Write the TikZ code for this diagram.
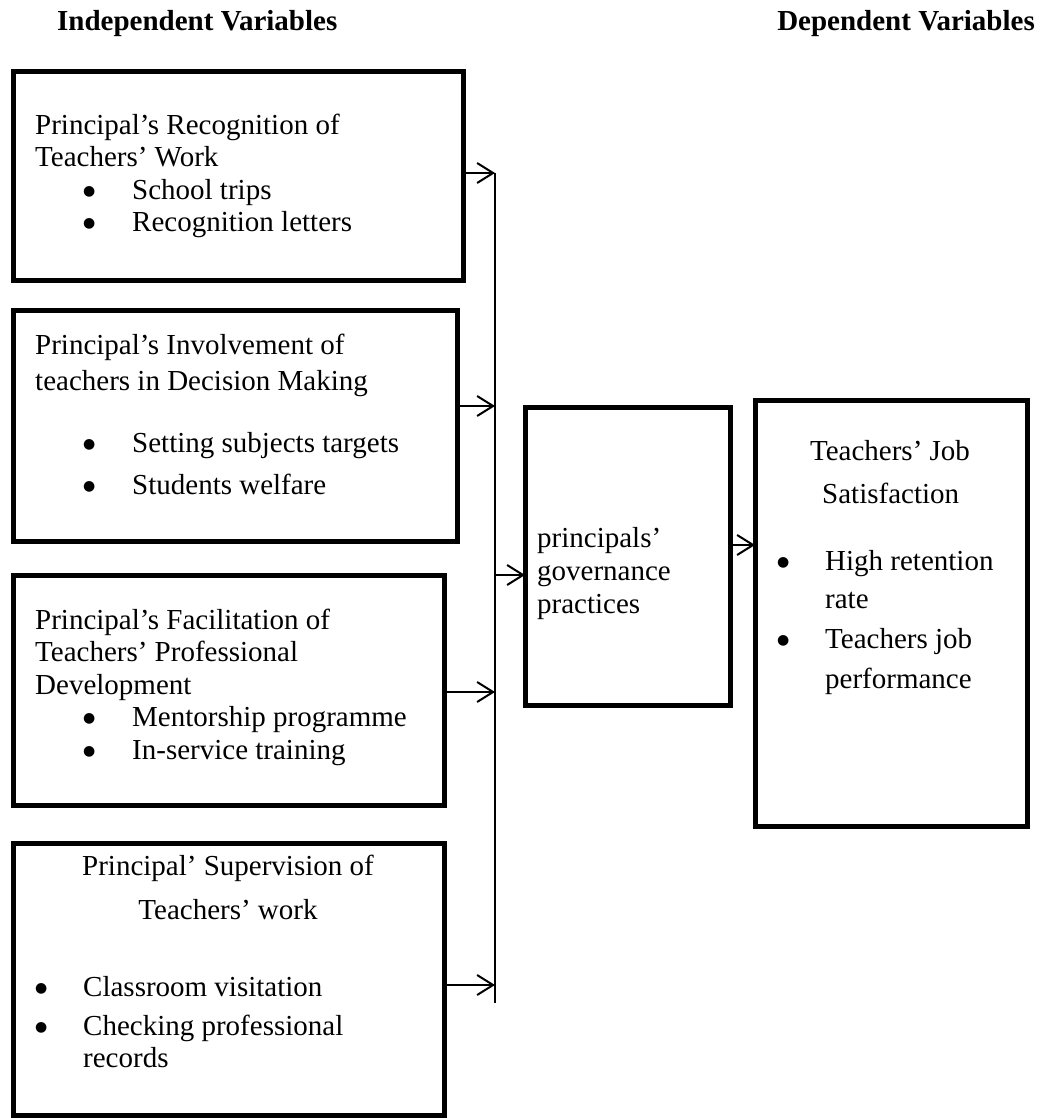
\documentclass[tikz,border=0pt]{standalone}
\usepackage{fontspec}
\setmainfont{Liberation Serif}
\newfontfamily\djv{DejaVu Sans}
\usetikzlibrary{arrows.meta}
\newcommand{\bul}[2]{\makebox[#1pt][l]{\raisebox{4pt}{\djv\fontsize{14}{14}\selectfont ●}}#2}
\begin{document}
\begin{tikzpicture}[x=1pt,y=-1pt,
  boxst/.style={draw, line width=5pt, inner sep=0pt, outer sep=0pt},
  txt/.style={inner sep=0pt, anchor=base west, font=\fontsize{29}{33}\selectfont},
  ctxt/.style={inner sep=0pt, anchor=base, font=\fontsize{29}{33}\selectfont},
  head/.style={inner sep=0pt, font=\fontsize{29}{33}\selectfont\bfseries},
  conn/.style={line width=2pt},
  arr/.style={line width=2pt, -{Straight Barb[length=16pt,width=20pt,line width=2pt]}}
]
\useasboundingbox (0,0) rectangle (1039,1118);

% headings
\node[head, anchor=base west] (h1) at (57,31) {Independent Variables};
\node[head, anchor=base east] (h2) at (1035,31) {Dependent Variables};

% boxes
\node[boxst, minimum width=450pt, minimum height=208pt] (b1) at (238.5,176) {};
\node[boxst, minimum width=444pt, minimum height=231pt] (b2) at (235.5,425.5) {};
\node[boxst, minimum width=430.5pt, minimum height=230pt] (b3) at (228.75,690) {};
\node[boxst, minimum width=430.5pt, minimum height=272pt] (b4) at (228.75,979) {};
\node[boxst, minimum width=205pt, minimum height=298pt] (mid) at (627.5,556) {};
\node[boxst, minimum width=272pt, minimum height=426pt] (dep) at (891,613) {};

% box 1 text
\node[txt] (t11) at (35,135) {Principal’s Recognition of};
\node[txt] (t12) at (35,167) {Teachers’ Work};
\node[txt] (t13) at (83,199) {\bul{49}{School trips}};
\node[txt] (t14) at (83,231) {\bul{49}{Recognition letters}};

% box 2 text
\node[txt] (t21) at (35,354) {Principal’s Involvement of};
\node[txt] (t22) at (35,390) {teachers in Decision Making};
\node[txt] (t23) at (83,452) {\bul{49}{Setting subjects targets}};
\node[txt] (t24) at (83,494) {\bul{49}{Students welfare}};

% box 3 text
\node[txt] (t31) at (35,629) {Principal’s Facilitation of};
\node[txt] (t32) at (35,661) {Teachers’ Professional};
\node[txt] (t33) at (35,694) {Development};
\node[txt] (t34) at (83,726) {\bul{49}{Mentorship programme}};
\node[txt] (t35) at (83,759) {\bul{49}{In-service training}};

% box 4 text
\node[ctxt] (t41) at (228,875) {Principal’ Supervision of};
\node[ctxt] (t42) at (228,919) {Teachers’ work};
\node[txt] (t43) at (35,996) {\bul{48}{Classroom visitation}};
\node[txt] (t44) at (35,1035) {\bul{48}{Checking professional}};
\node[txt] (t45) at (83,1067) {records};

% middle text
\node[txt] (m1) at (537,547) {principals’};
\node[txt] (m2) at (537,580) {governance};
\node[txt] (m3) at (537,613) {practices};

% dependent text
\node[ctxt] (d1) at (890,460) {Teachers’ Job};
\node[txt] (d2) at (822,503) {Satisfaction};
\node[txt] (d3) at (777,570) {\bul{48}{High retention}};
\node[txt] (d4) at (825,608) {rate};
\node[txt] (d5) at (777,648) {\bul{48}{Teachers job}};
\node[txt] (d6) at (825,688) {performance};

% connectors
\coordinate (vtop) at (495,173);
\coordinate (vbot) at (495,1003);
\draw[conn] (vtop) -- (vbot);
\draw[arr] (b1.east |- 0,173) -- (vtop);
\draw[arr] (b2.east |- 0,406) -- (495,406);
\draw[arr] (b3.east |- 0,692) -- (495,692);
\draw[arr] (b4.east |- 0,985) -- (495,985);
\draw[arr] (495,575) -- (mid.west |- 0,575);
\draw[arr] (mid.east |- 0,545) -- (dep.west |- 0,545);
\end{tikzpicture}
\end{document}
